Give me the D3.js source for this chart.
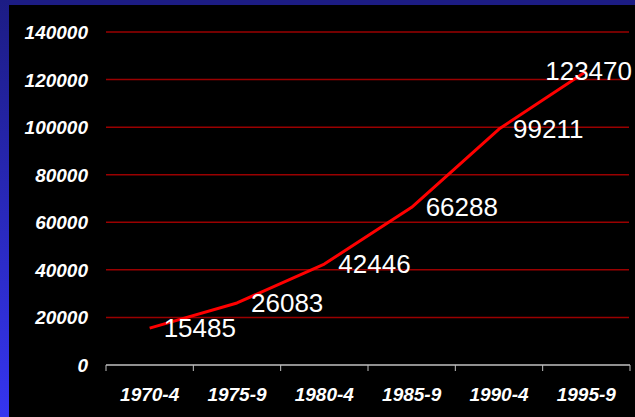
<!DOCTYPE html>
<html>
<head>
<meta charset="utf-8">
<script src="https://cdn.jsdelivr.net/npm/d3@7"></script>
<style>
  html, body { margin: 0; padding: 0; background: #000; }
  svg { display: block; }
</style>
</head>
<body>
<script>
const categories = ["1970-4", "1975-9", "1980-4", "1985-9", "1990-4", "1995-9"];
const values = [15485, 26083, 42446, 66288, 99211, 123470];
const yTicks = [0, 20000, 40000, 60000, 80000, 100000, 120000, 140000];

const W = 635, H = 417;
const svg = d3.select("body").append("svg").attr("width", W).attr("height", H);

const defs = svg.append("defs");
const grad = defs.append("linearGradient").attr("id", "lg").attr("x1", 0).attr("y1", 0).attr("x2", 0).attr("y2", 1);
grad.append("stop").attr("offset", "0%").attr("stop-color", "#1c1c84");
grad.append("stop").attr("offset", "100%").attr("stop-color", "#3535f0");

svg.append("rect").attr("width", W).attr("height", H).attr("fill", "#000");
svg.append("rect").attr("x", 0).attr("y", 0).attr("width", W).attr("height", 5).attr("fill", "#1c1c84");
svg.append("rect").attr("x", 0).attr("y", 0).attr("width", 9).attr("height", H).attr("fill", "url(#lg)");

const x = d3.scaleBand().domain(categories).range([106, 630]);
const y = d3.scaleLinear().domain([0, 140000]).range([365, 32]);

// gridlines
svg.append("g").selectAll("line").data(yTicks.filter(d => d > 0)).join("line")
  .attr("x1", 106).attr("x2", 629)
  .attr("y1", d => y(d)).attr("y2", d => y(d))
  .attr("stroke", "#9a0000").attr("stroke-width", 1.5);

// y labels
svg.append("g").selectAll("text").data(yTicks).join("text")
  .attr("x", 88).attr("y", d => y(d) + 7)
  .attr("text-anchor", "end")
  .attr("fill", "#fff")
  .attr("font-family", "Liberation Sans, Arial, sans-serif")
  .attr("font-weight", "bold").attr("font-style", "italic")
  .attr("font-size", 19)
  .text(d => d);

// x axis
const axisG = svg.append("g");
axisG.append("line").attr("x1", 106).attr("x2", 630).attr("y1", 365).attr("y2", 365)
  .attr("stroke", "#c0c0c0").attr("stroke-width", 1.5);
const edges = categories.map(c => x(c)).concat([x(categories[categories.length - 1]) + x.bandwidth()]);
axisG.selectAll("line.tk").data(edges).join("line").attr("class", "tk")
  .attr("x1", d => d).attr("x2", d => d).attr("y1", 365).attr("y2", 371)
  .attr("stroke", "#c0c0c0").attr("stroke-width", 1);

// x labels
svg.append("g").selectAll("text").data(categories).join("text")
  .attr("x", d => x(d) + x.bandwidth() / 2).attr("y", 401)
  .attr("text-anchor", "middle")
  .attr("fill", "#fff")
  .attr("font-family", "Liberation Sans, Arial, sans-serif")
  .attr("font-weight", "bold").attr("font-style", "italic")
  .attr("font-size", 19)
  .text(d => d);

// line
const pts = categories.map((c, i) => [x(c) + x.bandwidth() / 2, y(values[i])]);
svg.append("path").datum(pts)
  .attr("d", d3.line())
  .attr("fill", "none").attr("stroke", "#ff0000").attr("stroke-width", 3)
  .attr("stroke-linejoin", "round");

// data labels
svg.append("g").selectAll("text").data(values).join("text")
  .attr("x", (d, i) => i === values.length - 1 ? 632 : pts[i][0] + 14)
  .attr("text-anchor", (d, i) => i === values.length - 1 ? "end" : "start")
  .attr("y", (d, i) => pts[i][1] + 9)
  .attr("fill", "#fff")
  .attr("font-family", "Liberation Sans, Arial, sans-serif")
  .attr("font-size", 26)
  .text(d => d);
</script>
</body>
</html>
